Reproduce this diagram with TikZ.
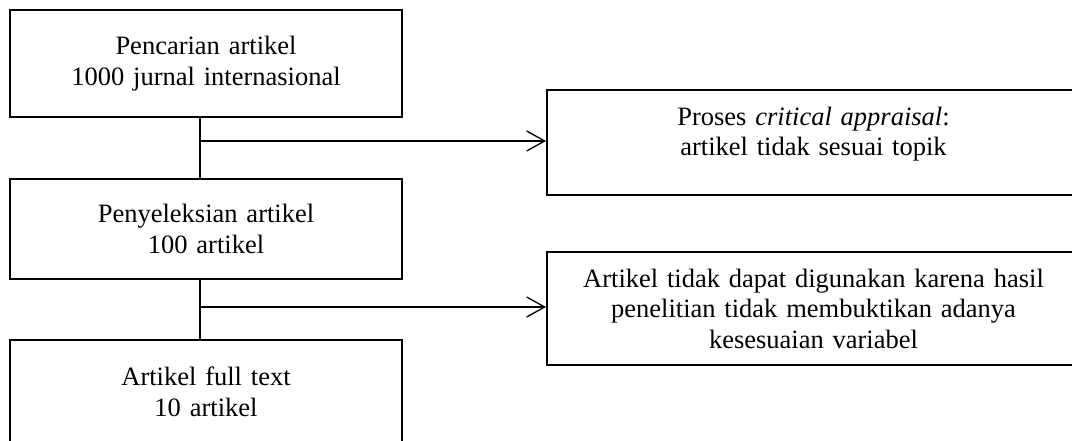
\documentclass[tikz,border=0pt]{standalone}
\usepackage{fontspec}
\setmainfont{Liberation Serif}
\usetikzlibrary{arrows.meta}
\usetikzlibrary{positioning}

\begin{document}
\begin{tikzpicture}[x=1pt, y=-1pt,
		box/.style = {
			draw, line width=2pt, rectangle, align=center,
			font=\fontsize{26.5}{30.5}\selectfont
		},
		mainbox/.style = {box, text width=370pt, minimum width=392pt},
		sidebox/.style = {box, text width=500pt, minimum width=533pt},
		trunk/.style = {line width=2pt},
		branch/.style = {line width=1.3pt, -{Straight Barb[length=18pt, width=20pt]}}]
		\useasboundingbox (0,0) rectangle (1072,441);
		\clip (0,0) rectangle (1072,441);
		
		\node at (206,63.5) (cari) [mainbox, minimum height=107pt] {Pencarian artikel\\1000 jurnal internasional};
		\node at (206,229) (seleksi) [mainbox, minimum height=100pt] {Penyeleksian artikel\\100 artikel};
		\node at (206,392) (full) [mainbox, minimum height=104pt] {Artikel full text\\10 artikel};
		
		% teks kotak ini agak ke atas
		\node at (813.5,142.3) (kritis) [sidebox, minimum height=105.5pt] {Proses \textit{critical appraisal}:\\artikel tidak sesuai topik\\[-8.75pt]\mbox{}};
		\node at (813.5,308.5) (tolak) [sidebox, minimum height=113pt] {Artikel tidak dapat digunakan karena hasil\\penelitian tidak membuktikan adanya\\kesesuaian variabel};
		
		% titik cabang pada garis utama
		\coordinate (j1) at (200,141);
		\coordinate (j2) at (200,307);
		
		\draw [trunk] (cari.south -| j1) -- (seleksi.north -| j1);
		\draw [trunk] (seleksi.south -| j2) -- (full.north -| j2);
		
		\draw [branch] (j1) -- (j1 -| kritis.west);
		\draw [branch] (j2) -- (j2 -| tolak.west);
	\end{tikzpicture}
\end{document}
